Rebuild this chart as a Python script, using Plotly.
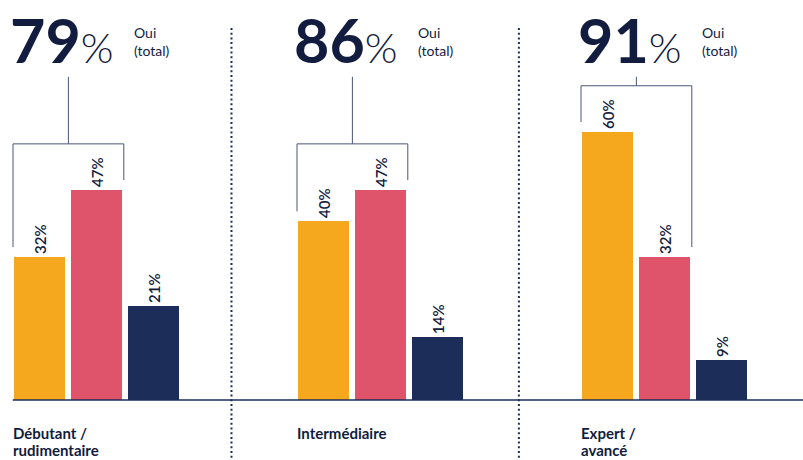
import plotly.graph_objects as go

# ---- data ----
categories = ["Débutant /<br>rudimentaire", "Intermédiaire", "Expert /<br>avancé"]
series_a = [32, 40, 60]   # orange
series_b = [47, 47, 32]   # rose
series_c = [21, 14, 9]    # bleu marine
totals = [79, 86, 91]
total_label = "Oui<br>(total)"

ORANGE = "#F5A81E"
PINK = "#E0546B"
NAVY = "#1C2D5A"
INK = "#121C3E"
LINE = "#4a5677"

GROUP_STEP = 5
BAR_W = 0.898
PX_X = 56.8   # px per x unit
PX_Y = 4.47   # px per %

fig = go.Figure()
for s, (vals, col) in enumerate([(series_a, ORANGE), (series_b, PINK), (series_c, NAVY)]):
    fig.add_trace(go.Bar(
        x=[g * GROUP_STEP + s for g in range(len(categories))],
        y=vals, width=BAR_W, marker=dict(color=col, line=dict(width=0)),
        text=[f"{v}%" for v in vals], textposition="outside", textangle=-90,
        textfont=dict(family="Lato", size=15, color=INK, weight=600),
        cliponaxis=False, showlegend=False, hoverinfo="skip"))

shapes = []
annotations = []
for g in range(len(categories)):
    left = g * GROUP_STEP - BAR_W / 2
    xl = left - 1 / PX_X
    xr = g * GROUP_STEP + 1 + BAR_W / 2 + 2 / PX_X
    a, b = series_a[g], series_b[g]
    top = max(a, b) + 10.3
    shapes.append(dict(type="path", xref="x", yref="y",
                       path=f"M {xl},{a + 2.2} L {xl},{top} L {xr},{top} L {xr},{b + 2.2}",
                       line=dict(color=LINE, width=1)))
    xm = (xl + xr) / 2
    shapes.append(dict(type="line", xref="x", yref="y", x0=xm, x1=xm, y0=top, y1=72.3,
                       line=dict(color=LINE, width=1)))
    annotations.append(dict(
        x=left - 5 / PX_X, y=(400 - 39) / PX_Y, xref="x", yref="y", xanchor="left", yanchor="middle",
        text=f"<b>{totals[g]}</b><span style='font-size:42px;font-weight:300'>%</span>",
        showarrow=False, borderpad=0, font=dict(family="Lato", size=61, color=INK)))
    annotations.append(dict(
        x=left + 118 / PX_X, y=(400 - 41) / PX_Y, xref="x", yref="y", xanchor="left", yanchor="middle",
        text=total_label, align="left", showarrow=False,
        font=dict(family="Lato", size=14, color=INK)))
    for i, line in enumerate(categories[g].split("<br>")):
        annotations.append(dict(
            x=left - 3 / PX_X, y=-(33 + 17 * i) / PX_Y, xref="x", yref="y",
            xanchor="left", yanchor="middle",
            text=f"<b>{line}</b>", align="left", showarrow=False,
            font=dict(family="Lato", size=15, color=INK)))

# separators
for xs in [3.38, 8.44]:
    shapes.append(dict(type="line", xref="x", yref="y", x0=xs, x1=xs,
                       y0=(400 - 28) / PX_Y, y1=-60 / PX_Y,
                       line=dict(color=NAVY, width=2, dash="2px,2.7px")))
# baseline
x_left = -39.5 / PX_X
x_right = (803 - 39.5) / PX_X
shapes.append(dict(type="line", xref="x", yref="y", x0=-0.47, x1=x_right, y0=0, y1=0,
                   line=dict(color=NAVY, width=1.5)))

fig.update_layout(
    width=803, height=460, margin=dict(l=0, r=0, t=0, b=0, pad=0),
    paper_bgcolor="white", plot_bgcolor="white",
    xaxis=dict(range=[x_left, x_right], visible=False, fixedrange=True),
    yaxis=dict(range=[-60 / PX_Y, 400 / PX_Y], visible=False, fixedrange=True),
    shapes=shapes, annotations=annotations, bargap=0, showlegend=False)

fig.write_html("out.html", config={"displayModeBar": False},
               post_script="document.body.style.margin='0';document.body.style.overflow='hidden';")
